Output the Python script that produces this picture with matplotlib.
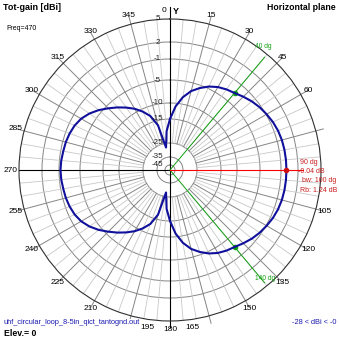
import numpy as np
import matplotlib
matplotlib.use("Agg")
import matplotlib.pyplot as plt

# diagram: Tot-gain, horizontal plane, 470 MHz
angles = np.arange(0, 360, 5)
gain_db = [-15.0, -11.0, -8.5, -6.8, -5.6, -4.6, -3.9, -3.4, -3.0, -2.4,
           -1.8, -1.3, -0.9, -0.55, -0.3, -0.15, -0.08, -0.05, -0.04, -0.05,
           -0.08, -0.15, -0.3, -0.55, -0.9, -1.3, -1.8, -2.4, -3.0, -3.4,
           -3.9, -4.6, -5.6, -6.8, -8.5, -11.0, -15.0, -20.0, -28.0, -17.0,
           -13.0, -10.8, -9.2, -8.0, -6.8, -5.6, -4.4, -3.4, -2.6, -2.1,
           -1.8, -1.6, -1.5, -1.35, -1.28, -1.35, -1.5, -1.6, -1.8, -2.1,
           -2.6, -3.4, -4.4, -5.6, -6.8, -8.0, -9.2, -10.8, -13.0, -17.0,
           -28.0, -20.0]

ring_db = [2, -1, -5, -10, -15, -25, -35, -45]
ring_labels = ['5', '2', '-1', '-5', '-10', '-15', '-25', '-35', '-45']
tick_angles = [15, 30, 45, 60, 105, 120, 135, 150, 165, 180, 195, 210,
               225, 240, 255, 270, 285, 300, 315, 330, 345]
bw_angles = [40, 140]
peak_angle = 90
peak_db = -0.04

# log-like radial scale (dB -> pixels from centre)
scale_db = [-60, -45, -35, -25, -15, -10, -5, -1, 2, 5, 15]
scale_px = [0, 5, 13, 27, 51, 67, 90, 111, 128, 151, 228]


def fwd(r):
    return np.interp(r, scale_db, scale_px)


def inv(p):
    return np.interp(p, scale_px, scale_db)


def fx(x, y):
    # pixel -> figure fraction
    return x / 339, 1 - y / 339


plt.rcParams['font.family'] = ['Liberation Sans', 'DejaVu Sans']
fig = plt.figure(figsize=(3.39, 3.39), dpi=100)
fig.patch.set_facecolor('white')
ax = fig.add_axes([19 / 339, 18 / 339, 302 / 339, 302 / 339], projection='polar')
ax.set_theta_zero_location('N')
ax.set_theta_direction(-1)
ax.set_rscale('function', functions=(fwd, inv))

# кольца
ax.set_xticks([])
ax.set_yticks(ring_db)
ax.set_yticklabels([])
ax.yaxis.grid(True, color='#858585', lw=0.7)
ax.spines['polar'].set_color('#303030')
ax.spines['polar'].set_linewidth(0.8)

# радиальные линии
for a in range(0, 360, 5):
    if a % 90 == 0:
        continue
    th = np.deg2rad(a)
    if a % 15 == 0:
        ax.plot([th, th], [-25, 6.0], color='#858585', lw=0.7, clip_on=False)
    else:
        ax.plot([th, th], [-25, 5], color='#c8c8c8', lw=0.6)

ax.plot([0, 0], [-60, 6.6], color='black', lw=0.8, clip_on=False)
ax.plot([np.pi, np.pi], [-60, 5.8], color='black', lw=0.8, clip_on=False)
ax.plot([1.5 * np.pi] * 2, [-60, 5], color='black', lw=0.8)

# маркеры
for a in bw_angles:
    th = np.deg2rad(a)
    ax.plot([th, th], [-60, 4.5], color='#10a010', lw=0.7, clip_on=False)
    ax.plot(th, gain_db[list(angles).index(a)], 'o', color='#10a010', ms=3)
ax.plot([np.deg2rad(peak_angle)] * 2, [-60, 2.65], color='#ff0000', lw=0.8)

# диаграмма
th = np.deg2rad(np.append(angles, angles[0]))
rr = np.append(gain_db, gain_db[0])
ax.plot(th, rr, color='#10109c', lw=1.5)
ax.plot(np.deg2rad(peak_angle), peak_db, 'o', color='#d01010', ms=3)

ax.set_rlim(-60, 5)

# подписи колец
for db, lbl in zip([5] + ring_db, ring_labels):
    ax.annotate(lbl, xy=(0, db), xytext=(-9, 0), textcoords='offset points',
                ha='center', va='center', fontsize=5.8, color='#202020')

# подписи углов
lbl_pos = {165: 172, 195: 188}
for a in tick_angles:
    ax.text(np.deg2rad(lbl_pos.get(a, a)), 6.1, str(a), ha='center', va='center',
            fontsize=6, clip_on=False)

fig.text(*fx(164.5, 10), '0', ha='center', va='center', fontsize=6)
fig.text(*fx(176, 11), 'Y', ha='center', va='center', fontsize=6.5, weight='bold')

fig.text(*fx(3, 8), 'Tot-gain [dBi]', ha='left', va='center', fontsize=6.5, weight='bold')
fig.text(*fx(6, 29), 'Freq=470', ha='left', va='center', fontsize=5.0)
fig.text(*fx(336, 8), 'Horizontal plane', ha='right', va='center', fontsize=6.3, weight='bold')

fig.text(*fx(255, 46), '40 dg', ha='left', va='center', fontsize=4.8, color='#10a010')
fig.text(*fx(255, 279), '140 dg', ha='left', va='center', fontsize=4.8, color='#10a010')

red = '#c81e1e'
fig.text(*fx(300, 163), '90 dg', ha='left', va='center', fontsize=5, color=red)
fig.text(*fx(298, 171.5), '-0.04 dB', ha='left', va='center', fontsize=5, color=red)
fig.text(*fx(302, 180.5), 'bw: 100 dg', ha='left', va='center', fontsize=5, color=red)
fig.text(*fx(300, 190), 'Rb: 1.24 dB', ha='left', va='center', fontsize=5, color=red)

fig.text(*fx(4, 323), 'uhf_circular_loop_8-5in_qict_tantognd.out', ha='left', va='center',
         fontsize=5.3, color='#1a1ab0',
         bbox=dict(facecolor='white', edgecolor='none', pad=0.3))
fig.text(*fx(4, 333), 'Elev.= 0', ha='left', va='center', fontsize=6.3, weight='bold')
fig.text(*fx(337, 323), '-28 < dBi < -0', ha='right', va='center', fontsize=5.3,
         color='#1a1ab0')

fig.savefig('out.png', dpi=100, facecolor='white')
